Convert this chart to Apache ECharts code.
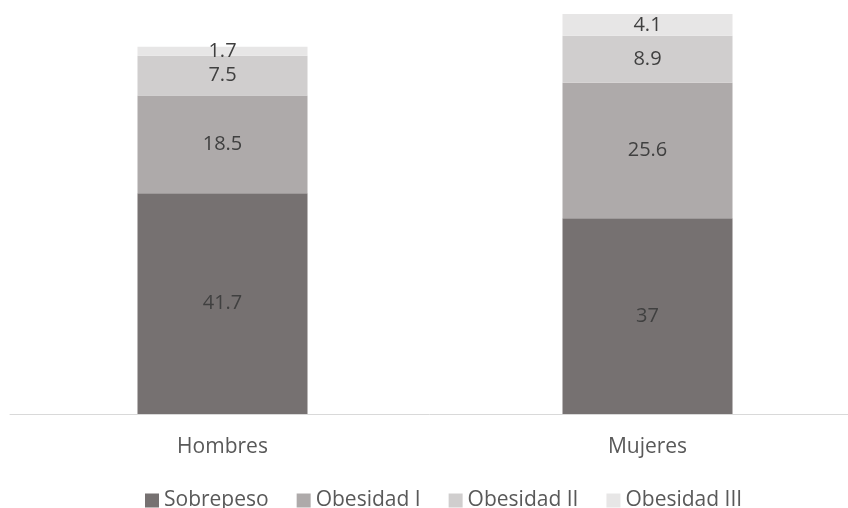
<!DOCTYPE html>
<html><head><meta charset="utf-8">
<script src="https://cdn.jsdelivr.net/npm/echarts@6/dist/echarts.min.js"></script>
<style>html,body{margin:0;padding:0;background:#fff}#c{width:848px;height:508px}</style>
</head><body><div id="c"></div>
<script>
const categories = ['Hombres', 'Mujeres'];
const seriesNames = ['Sobrepeso', 'Obesidad I', 'Obesidad II', 'Obesidad III'];
const sobrepeso = [41.7, 37];
const obesidadI = [18.5, 25.6];
const obesidadII = [7.5, 8.9];
const obesidadIII = [1.7, 4.1];
const colors = ['#767171', '#AEAAAA', '#D0CECE', '#E7E6E6'];

const values = [sobrepeso, obesidadI, obesidadII, obesidadIII];
const totals = categories.map((_, i) => values.reduce((s, v) => s + v[i], 0));
const font = '"Open Sans", sans-serif';
const chart = echarts.init(document.getElementById('c'));
chart.setOption({
  animation: false,
  grid: { left: 10, width: 850, top: 14, bottom: 94, outerBoundsMode: 'none', containLabel: false },
  legend: {
    bottom: -8, left: 140, itemWidth: 14, itemHeight: 14, itemGap: 28, icon: 'rect',
    textStyle: { fontFamily: font, fontSize: 21, color: '#595959' },
    data: seriesNames
  },
  xAxis: {
    type: 'category', data: categories,
    axisLine: { lineStyle: { color: '#D9D9D9', width: 1 } },
    axisTick: { show: false },
    axisLabel: { fontFamily: font, fontSize: 21, color: '#595959', margin: 23 }
  },
  yAxis: { type: 'value', min: 0, max: Math.max(...totals), show: false, splitLine: { show: false } },
  series: seriesNames.map((n, k) => ({
    name: n, type: 'bar', stack: 'total', data: values[k], barWidth: '40%',
    itemStyle: { color: colors[k] },
    label: { show: true, position: 'inside', fontFamily: font, fontSize: 20, color: '#404040' }
  }))
});
</script></body></html>
